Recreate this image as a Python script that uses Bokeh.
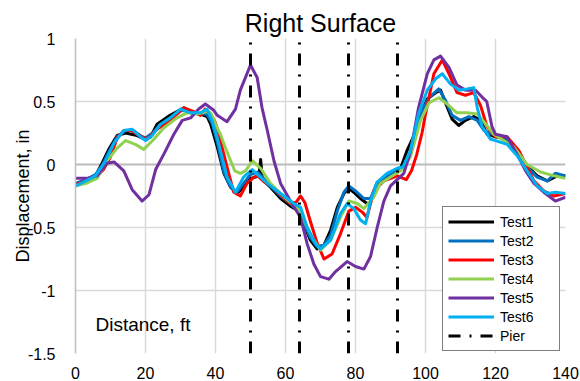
from bokeh.plotting import figure
from bokeh.models import Range1d, FixedTicker, Label, Legend, LegendItem, Span
from bokeh.embed import file_html
from bokeh.resources import INLINE

FONT = "Liberation Sans"

title_text = "Right Surface"
x_title = "Distance, ft"
y_title = "Displacement, in"

x_ticks = [0, 20, 40, 60, 80, 100, 120, 140]
y_ticks = [-1.5, -1, -0.5, 0, 0.5, 1]
y_tick_labels = ["-1.5", "-1", "-0.5", "0", "0.5", "1"]

pier_x = [50, 64, 78, 92]

test1_x = [0, 3, 5.7, 7.6, 9.5, 11.9, 14.3, 17.6, 20, 21.5, 23.3, 27, 31, 33.8, 35.7, 37.6, 38.6, 40.5,
           42.4, 44.3, 46.2, 48, 50, 51.4, 52.4, 52.9, 53.4, 55.7, 58.6, 61.4, 63.3, 65.2, 67.1, 69, 71,
           72.9, 74.8, 76.7, 78.1, 79.5, 81.4, 83.3, 84.3, 86.2, 88.1, 90.9, 92.9, 94.7, 96.7, 98.6,
           100.5, 102.9, 104.3, 105.7, 107.6, 109.5, 111.4, 113.8, 115.7, 117.6, 120, 123.3, 126.2,
           129, 131.9, 134.8, 137.6, 140]
test1_y = [-0.16, -0.13, -0.09, 0.01, 0.12, 0.23, 0.25, 0.23, 0.20, 0.22, 0.32, 0.39, 0.45, 0.41, 0.40,
           0.38, 0.32, 0.14, -0.07, -0.18, -0.23, -0.18, -0.11, -0.10, -0.09, 0.04, -0.12, -0.18, -0.27,
           -0.33, -0.36, -0.47, -0.60, -0.67, -0.64, -0.52, -0.34, -0.23, -0.19, -0.22, -0.27, -0.31,
           -0.30, -0.16, -0.11, -0.07, -0.03, 0.11, 0.23, 0.40, 0.52, 0.57, 0.59, 0.49, 0.36, 0.31, 0.35,
           0.38, 0.35, 0.24, 0.22, 0.20, 0.11, -0.01, -0.09, -0.13, -0.09, -0.09]

test2_x = [0, 3, 5.7, 7.6, 9.5, 11.9, 14.3, 16.5, 18.5, 20, 22, 24, 27, 30, 32.5, 35, 37.5, 39, 40.5,
           42.4, 44.3, 46.2, 48, 50, 52, 54, 56, 58.6, 61.4, 63.3, 65.2, 67.1, 69, 71, 72.9, 74.8, 76.7,
           78.1, 80, 82.4, 84.3, 86.2, 89, 91.9, 93.5, 95.7, 98.6, 101, 103.8, 105.7, 107.6, 110, 112.4,
           114.8, 116.7, 120, 123.3, 126.2, 129, 131.9, 134.8, 137.1, 140]
test2_y = [-0.15, -0.12, -0.08, -0.01, 0.10, 0.22, 0.27, 0.27, 0.23, 0.21, 0.25, 0.31, 0.37, 0.43, 0.42,
           0.40, 0.40, 0.33, 0.18, -0.06, -0.18, -0.22, -0.15, -0.08, -0.06, -0.12, -0.18, -0.25, -0.31,
           -0.36, -0.46, -0.58, -0.65, -0.64, -0.56, -0.37, -0.22, -0.17, -0.21, -0.27, -0.27, -0.14,
           -0.09, -0.05, -0.03, 0.11, 0.40, 0.53, 0.60, 0.51, 0.39, 0.35, 0.38, 0.35, 0.27, 0.23, 0.19,
           0.10, -0.02, -0.10, -0.13, -0.07, -0.09]

test3_x = [0, 3, 5.7, 8, 10, 11.9, 13.8, 16, 17.6, 20.5, 23.3, 26, 29, 31, 33.8, 35.7, 37, 38.6, 40,
           41.4, 43.3, 45.2, 47.1, 49, 51, 52, 54, 56, 58.6, 61.4, 63, 64.3, 65.5, 67.1, 69, 71, 73.3,
           75.7, 78.1, 80, 82, 83.3, 85.2, 88.1, 92, 94.5, 96, 97.5, 99, 100, 102.4, 104.8, 106.7, 109,
           111.4, 113.8, 115.7, 117.6, 120, 123.3, 126.7, 129, 131, 133.8, 136.7, 140]
test3_y = [-0.16, -0.13, -0.10, -0.04, 0.06, 0.21, 0.27, 0.27, 0.24, 0.20, 0.28, 0.33, 0.40, 0.45, 0.42,
           0.39, 0.44, 0.40, 0.33, 0.19, -0.02, -0.22, -0.25, -0.15, -0.10, -0.09, -0.14, -0.17, -0.24,
           -0.31, -0.30, -0.25, -0.30, -0.45, -0.62, -0.75, -0.71, -0.55, -0.37, -0.34, -0.38, -0.42,
           -0.21, -0.13, -0.09, -0.12, -0.05, 0.08, 0.25, 0.40, 0.72, 0.83, 0.72, 0.57, 0.55, 0.57, 0.47,
           0.30, 0.22, 0.22, 0.11, -0.02, -0.13, -0.21, -0.25, -0.23]

test4_x = [0, 3, 6.2, 9, 11.9, 14.3, 17.1, 19.5, 22.4, 25.2, 29, 31.9, 34.8, 37.6, 38.6, 40.5, 41.4, 43,
           45.5, 47.1, 48.6, 50.5, 52.9, 55.7, 58.6, 61.4, 63.3, 65.7, 68.1, 70, 72.9, 75.7, 78.1, 80.5,
           82.4, 85.2, 87.1, 90, 92.9, 95.7, 98.6, 101, 103.8, 106.2, 109, 111.9, 114.8, 116.7, 119.5,
           125.2, 129, 132.9, 136.7, 140]
test4_y = [-0.17, -0.15, -0.11, 0.03, 0.13, 0.19, 0.16, 0.12, 0.20, 0.29, 0.37, 0.41, 0.40, 0.42, 0.41,
           0.29, 0.24, 0.12, -0.05, -0.07, -0.05, 0.03, -0.03, -0.15, -0.23, -0.30, -0.34, -0.47, -0.60,
           -0.68, -0.60, -0.42, -0.29, -0.31, -0.35, -0.26, -0.15, -0.10, -0.05, 0.06, 0.35, 0.49, 0.53,
           0.48, 0.41, 0.41, 0.40, 0.34, 0.24, 0.14, 0.00, -0.06, -0.09, -0.11]

test5_x = [0, 3.3, 6.2, 9, 11, 13.8, 16.2, 19, 21, 22.9, 25.2, 28.1, 30.5, 32.9, 35.2, 37.1, 39.5, 40.5,
           43.3, 45.7, 47.1, 50, 51.9, 53.3, 54.8, 56.7, 58.6, 61.4, 64.3, 66.2, 68.1, 70, 72.4, 74.3,
           77.6, 80, 82.4, 84.3, 86.2, 88.1, 90, 91.9, 93.8, 95.7, 98, 100.5, 102.4, 104.3, 106.7, 109,
           111.4, 114.3, 116.7, 117.5, 119, 120, 123.3, 126.2, 128.6, 131, 133.8, 137.1, 140]
test5_y = [-0.11, -0.11, -0.09, 0.01, 0.02, -0.05, -0.20, -0.29, -0.24, -0.04, 0.08, 0.24, 0.35, 0.37,
           0.44, 0.48, 0.43, 0.39, 0.34, 0.44, 0.59, 0.79, 0.69, 0.45, 0.27, 0.03, -0.15, -0.29, -0.42,
           -0.63, -0.79, -0.89, -0.91, -0.85, -0.77, -0.81, -0.83, -0.73, -0.50, -0.29, -0.17, -0.12,
           -0.07, 0.10, 0.45, 0.72, 0.83, 0.86, 0.77, 0.63, 0.59, 0.59, 0.52, 0.50, 0.30, 0.24, 0.22,
           0.08, -0.05, -0.15, -0.22, -0.29, -0.26]

test6_x = [0, 3, 5.7, 8.6, 11, 13.8, 16.2, 18.1, 20, 21.9, 24.3, 27.1, 30, 32.9, 35.7, 37.6, 39, 40.5,
           43.3, 45.7, 48, 50.5, 52.4, 54.8, 58.6, 62.4, 64.3, 66.2, 68.6, 70, 72.9, 75.7, 77.6, 79.5,
           81.4, 82.9, 84.3, 86.2, 89, 91.9, 93.5, 95.7, 98, 100.5, 102.9, 104.8, 107.1, 109.5, 111.9,
           113.8, 114.8, 116.2, 118.6, 120, 123.3, 126.2, 129, 131.9, 134.8, 137.1, 140]
test6_y = [-0.17, -0.13, -0.09, 0.03, 0.17, 0.27, 0.28, 0.23, 0.19, 0.23, 0.32, 0.37, 0.44, 0.41, 0.41,
           0.44, 0.35, 0.21, -0.10, -0.22, -0.10, -0.04, -0.09, -0.15, -0.23, -0.31, -0.34, -0.50, -0.63,
           -0.67, -0.60, -0.39, -0.31, -0.35, -0.44, -0.47, -0.29, -0.14, -0.07, -0.03, -0.02, 0.11,
           0.40, 0.59, 0.68, 0.72, 0.64, 0.59, 0.60, 0.61, 0.45, 0.30, 0.20, 0.19, 0.16, 0.07, -0.05,
           -0.17, -0.23, -0.22, -0.23]

series = [
    ("Test1", test1_x, test1_y, "#000000"),
    ("Test2", test2_x, test2_y, "#0070C0"),
    ("Test3", test3_x, test3_y, "#FF0000"),
    ("Test4", test4_x, test4_y, "#92D050"),
    ("Test5", test5_x, test5_y, "#7030A0"),
    ("Test6", test6_x, test6_y, "#00B0F0"),
]

p = figure(width=580, height=381, output_backend="svg", toolbar_location=None,
           x_range=Range1d(0, 140), y_range=Range1d(-1.5, 1),
           min_border_left=75, min_border_right=15, min_border_top=38, min_border_bottom=28)
p.outline_line_color = None
p.background_fill_color = "white"

p.title.text = title_text
p.title.align = "center"
p.title.text_font = FONT
p.title.text_font_size = "25px"
p.title.text_font_style = "normal"
p.title.text_color = "#000000"
p.title.standoff = 4

p.xaxis.ticker = FixedTicker(ticks=x_ticks)
p.yaxis.ticker = FixedTicker(ticks=y_ticks)
p.yaxis.major_label_overrides = {t: s for t, s in zip(y_ticks, y_tick_labels)}
p.xgrid.ticker = FixedTicker(ticks=x_ticks)
p.ygrid.ticker = FixedTicker(ticks=y_ticks)
for g in (p.xgrid, p.ygrid):
    g.grid_line_color = "#D9D9D9"
    g.grid_line_width = 1.5

for ax in (p.xaxis, p.yaxis):
    ax.major_tick_line_color = None
    ax.minor_tick_line_color = None
    ax.major_label_text_font = FONT
    ax.major_label_text_font_size = "16px"
    ax.major_label_text_color = "#000000"
p.xaxis.axis_line_color = None
p.xaxis.major_label_standoff = 7
p.yaxis.axis_line_color = "#BFBFBF"
p.yaxis.axis_line_width = 1.5
p.yaxis.major_label_standoff = 14
p.yaxis.axis_label = y_title
p.yaxis.axis_label_text_font = FONT
p.yaxis.axis_label_text_font_size = "18px"
p.yaxis.axis_label_text_font_style = "normal"
p.yaxis.axis_label_text_color = "#000000"
p.yaxis.axis_label_standoff = -8

zero = Span(location=0, dimension="width", line_color="#BDBDBD", line_width=2, level="underlay")
p.add_layout(zero)

items = []
for name, xs, ys, col in series:
    r = p.line(xs, ys, line_color=col, line_width=3, line_join="round")
    items.append(LegendItem(label=name, renderers=[r]))

pr = p.segment(x0=pier_x, x1=pier_x, y0=[p.y_range.start] * len(pier_x),
               y1=[p.y_range.end] * len(pier_x), line_color="black", line_width=3,
               line_dash="12 9 2 9")
items.append(LegendItem(label="Pier", renderers=[pr]))

legend = Legend(items=items, location=(367, 2), padding=5, spacing=0, margin=0,
                glyph_width=46, glyph_height=19, label_height=19, label_standoff=6, label_width=54,
                label_text_font=FONT, label_text_font_size="14px", label_text_color="#000000",
                border_line_color="black", border_line_width=1, background_fill_color="white",
                background_fill_alpha=1)
p.add_layout(legend)

xl = Label(x=5.7, y=-1.27, text=x_title, text_font=FONT, text_font_size="19px",
           text_color="#000000", text_baseline="alphabetic")
p.add_layout(xl)

open("out.html", "w").write(file_html(p, INLINE))
